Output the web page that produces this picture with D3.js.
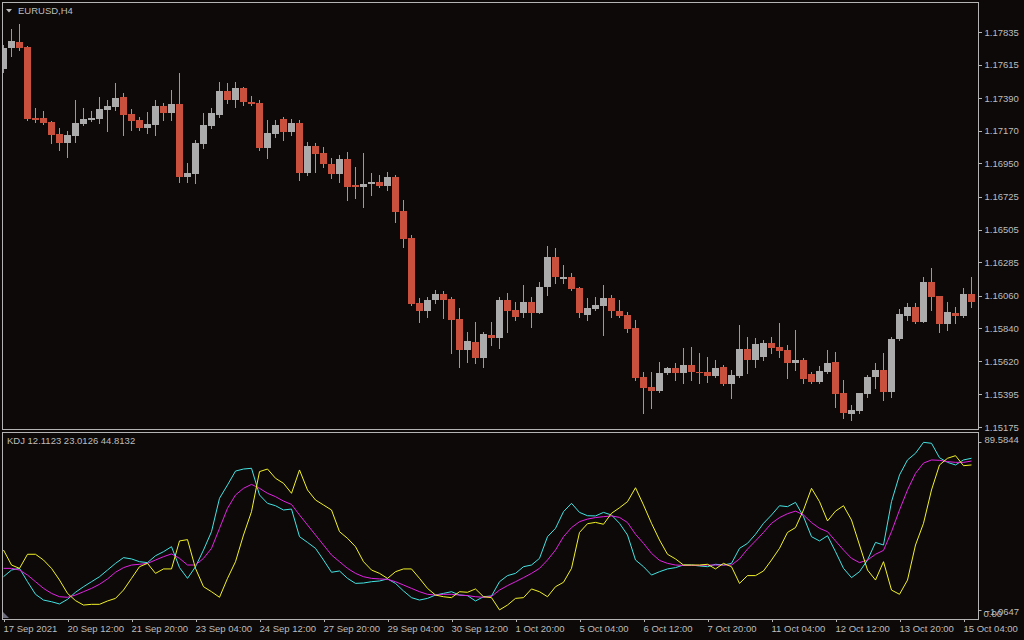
<!DOCTYPE html>
<html><head><meta charset="utf-8">
<script src="https://cdn.jsdelivr.net/npm/d3@7"></script>
<style>
html,body{margin:0;padding:0;background:#0c0908;}
svg{display:block;}
text{font-family:"Liberation Sans",Arial,sans-serif;font-size:9.5px;fill:#bdbdbd;}
</style></head><body>
<svg id="c" width="1024" height="640"></svg>
<script>
const symbolTitle = "EURUSD,H4";
const kdjTitle = "KDJ 12.1123 23.0126 44.8132";

const openP = [1.17586,1.17727,1.17768,1.17734,1.17256,1.17256,1.17229,1.17148,1.17088,1.17135,
1.17216,1.17242,1.17249,1.17310,1.17330,1.17397,1.17283,1.17242,1.17189,1.17209,
1.17337,1.17290,1.17350,1.16859,1.16879,1.17081,1.17202,1.17276,1.17438,1.17377,
1.17458,1.17364,1.17357,1.17054,1.17148,1.17249,1.17162,1.17222,1.16886,1.17067,
1.17020,1.16946,1.16879,1.16980,1.16805,1.16791,1.16811,1.16825,1.16798,1.16859,
1.16630,1.16448,1.16010,1.15956,1.16030,1.16071,1.16037,1.15902,1.15694,1.15748,
1.15640,1.15795,1.15774,1.16030,1.15963,1.15943,1.16017,1.15943,1.16118,1.16320,
1.16172,1.16185,1.16111,1.15929,1.15970,1.15990,1.16044,1.15956,1.15929,1.15842,
1.15512,1.15444,1.15418,1.15539,1.15572,1.15539,1.15593,1.15546,1.15546,1.15519,
1.15579,1.15465,1.15519,1.15700,1.15626,1.15647,1.15741,1.15714,1.15694,1.15606,
1.15626,1.15532,1.15478,1.15546,1.15613,1.15404,1.15263,1.15283,1.15397,1.15512,
1.15559,1.15411,1.15768,1.15923,1.15983,1.15882,1.16152,1.16057,1.15869,1.15943,
1.15923,1.16071];

const highP = [1.17748,1.17855,1.17889,1.17741,1.17323,1.17303,1.17236,1.17189,1.17168,1.17377,
1.17323,1.17303,1.17397,1.17377,1.17492,1.17424,1.17317,1.17263,1.17296,1.17377,
1.17357,1.17444,1.17559,1.16953,1.17108,1.17290,1.17323,1.17498,1.17492,1.17498,
1.17465,1.17404,1.17377,1.17242,1.17242,1.17263,1.17249,1.17242,1.17094,1.17088,
1.17061,1.16987,1.17007,1.17027,1.16926,1.17020,1.16886,1.16872,1.16892,1.16872,
1.16704,1.16468,1.16044,1.16051,1.16098,1.16091,1.16051,1.15976,1.15815,1.15882,
1.15815,1.15882,1.16051,1.16077,1.16017,1.16131,1.16051,1.16152,1.16394,1.16381,
1.16266,1.16212,1.16118,1.16044,1.16051,1.16131,1.16064,1.16030,1.15950,1.15896,
1.15546,1.15546,1.15613,1.15579,1.15606,1.15707,1.15714,1.15673,1.15647,1.15626,
1.15593,1.15559,1.15862,1.15781,1.15774,1.15761,1.15781,1.15875,1.15727,1.15828,
1.15640,1.15546,1.15586,1.15694,1.15680,1.15492,1.15323,1.15404,1.15525,1.15606,
1.15673,1.15781,1.15970,1.16010,1.16010,1.16185,1.16246,1.16057,1.16017,1.15983,
1.16111,1.16185];

const lowP = [1.17566,1.17673,1.17714,1.17242,1.17229,1.17216,1.17088,1.17040,1.16993,1.17094,
1.17209,1.17236,1.17222,1.17168,1.17310,1.17141,1.17175,1.17175,1.17155,1.17141,
1.17242,1.17242,1.16825,1.16825,1.16818,1.17054,1.17189,1.17263,1.17357,1.17330,
1.17343,1.17343,1.17040,1.16987,1.17128,1.17108,1.17141,1.16838,1.16872,1.16892,
1.16926,1.16852,1.16825,1.16704,1.16717,1.16657,1.16737,1.16791,1.16771,1.16556,
1.16387,1.15997,1.15882,1.15916,1.16010,1.15909,1.15673,1.15579,1.15613,1.15606,
1.15579,1.15727,1.15707,1.15815,1.15896,1.15916,1.15849,1.15943,1.16064,1.16145,
1.16145,1.16098,1.15916,1.15896,1.15963,1.15795,1.15916,1.15916,1.15815,1.15492,
1.15269,1.15303,1.15411,1.15532,1.15492,1.15471,1.15492,1.15471,1.15478,1.15512,
1.15458,1.15370,1.15512,1.15539,1.15579,1.15626,1.15673,1.15647,1.15505,1.15559,
1.15471,1.15471,1.15471,1.15539,1.15310,1.15236,1.15222,1.15269,1.15377,1.15438,
1.15357,1.15377,1.15761,1.15896,1.15875,1.15882,1.15963,1.15815,1.15828,1.15875,
1.15916,1.15983];

const closeP = [1.17727,1.17774,1.17727,1.17249,1.17242,1.17222,1.17141,1.17088,1.17141,1.17222,
1.17249,1.17256,1.17317,1.17337,1.17391,1.17276,1.17236,1.17189,1.17216,1.17337,
1.17290,1.17350,1.16859,1.16886,1.17088,1.17209,1.17290,1.17438,1.17377,1.17458,
1.17364,1.17350,1.17054,1.17155,1.17209,1.17162,1.17222,1.16886,1.17067,1.17014,
1.16946,1.16879,1.16980,1.16791,1.16791,1.16811,1.16825,1.16798,1.16859,1.16623,
1.16441,1.16003,1.15956,1.16030,1.16071,1.16030,1.15896,1.15694,1.15754,1.15640,
1.15801,1.15774,1.16030,1.15956,1.15916,1.16017,1.15943,1.16118,1.16320,1.16185,
1.16185,1.16104,1.15943,1.15976,1.15997,1.16044,1.15956,1.15923,1.15835,1.15505,
1.15438,1.15418,1.15539,1.15572,1.15539,1.15593,1.15546,1.15539,1.15519,1.15572,
1.15465,1.15525,1.15700,1.15626,1.15734,1.15741,1.15707,1.15687,1.15606,1.15626,
1.15498,1.15478,1.15552,1.15606,1.15397,1.15269,1.15290,1.15404,1.15512,1.15559,
1.15411,1.15768,1.15936,1.15983,1.15882,1.16152,1.16051,1.15869,1.15950,1.15923,
1.16071,1.16017];

const kLine = [16.9,20.5,21.4,14.2,7.4,4.3,3.4,2.2,4.7,8.5,
11.5,14.2,16.9,20.5,24.1,27.2,26.5,25.0,24.5,28.2,
30.4,33.1,21.8,16.0,22.3,31.3,41.2,59.2,66.4,73.9,
75.0,75.4,61.0,56.5,55.2,52.9,53.4,38.5,35.4,32.2,
25.9,19.3,20.0,16.0,13.3,13.5,14.2,14.6,15.7,13.3,
9.2,5.6,4.3,5.2,7.0,7.9,8.8,7.0,6.7,3.8,
6.1,6.5,14.2,17.5,18.7,22.3,23.2,26.8,38.5,43.0,
52.0,56.5,51.6,49.8,49.7,51.6,50.2,45.7,39.4,25.9,
22.3,17.8,19.6,21.1,21.8,23.2,23.2,22.7,22.3,23.6,
23.2,24.1,32.2,34.9,39.8,45.7,50.2,55.2,54.7,57.0,
49.3,38.5,36.2,39.0,30.4,21.4,16.4,19.6,25.9,35.4,
34.0,57.4,71.8,79.9,83.5,89.4,88.9,81.1,78.6,77.2,
79.9,80.8];

const dLine = [21.4,21.4,20.5,17.8,14.2,10.6,7.9,6.1,5.8,7.0,
8.8,10.6,12.8,15.7,19.3,21.8,23.2,23.6,24.1,25.9,
27.7,29.2,26.8,23.2,23.2,26.8,32.2,43.0,53.8,61.0,
64.6,66.7,64.6,61.9,60.1,57.7,55.9,50.2,44.8,39.4,
34.0,28.6,25.0,21.4,18.7,16.9,16.0,15.7,15.5,14.2,
12.4,10.6,8.8,7.4,7.0,7.4,7.4,7.0,6.7,6.1,
5.8,6.3,9.7,12.1,14.2,16.4,18.7,21.4,25.9,31.3,
38.5,43.4,46.6,48.0,48.8,49.3,49.7,48.9,46.1,39.8,
34.9,29.5,25.7,24.1,23.2,23.0,23.0,23.0,23.2,23.2,
23.2,23.2,26.5,31.8,36.2,40.8,45.7,48.8,50.9,52.3,
50.2,46.1,43.0,41.2,36.2,31.3,26.8,24.5,25.9,29.0,
31.1,41.2,52.9,63.7,72.7,78.2,79.9,79.7,79.0,78.6,
78.6,79.3];

const jLine = [31.3,23.2,21.4,29.0,29.0,25.9,21.4,15.1,7.9,4.0,
1.6,2.0,2.0,3.8,5.2,9.7,16.0,22.3,24.1,18.7,
21.1,21.1,36.2,36.9,21.4,11.5,8.8,5.8,16.0,25.0,
39.4,52.0,73.6,75.0,70.0,67.3,61.9,74.5,63.7,58.3,
55.6,52.9,41.2,37.6,33.1,25.0,20.5,18.7,16.0,19.6,
21.1,21.1,16.0,10.6,7.0,6.1,5.6,8.8,8.5,10.3,
6.1,5.6,-1.0,1.6,5.2,5.6,10.3,8.8,6.1,11.5,
13.9,21.4,40.8,45.5,46.2,45.2,51.1,54.1,57.4,64.9,
55.6,45.7,36.7,29.0,26.5,23.2,23.2,23.2,23.6,21.1,
24.1,22.3,13.3,17.5,17.5,20.0,25.9,32.2,40.8,43.4,
52.9,64.6,57.4,47.0,52.3,55.2,47.5,34.0,20.5,15.1,
25.0,9.7,7.4,15.1,34.0,45.7,63.7,77.2,80.8,82.2,
76.8,77.2];

const timeTickIndex = [0,8,16,24,32,40,48,56,64,72,80,88,96,104,112,120];
const timeTickLabels = ["17 Sep 2021","20 Sep 12:00","21 Sep 20:00","23 Sep 04:00","24 Sep 12:00","27 Sep 20:00","29 Sep 04:00","30 Sep 12:00","1 Oct 20:00","5 Oct 04:00","6 Oct 12:00","7 Oct 20:00","11 Oct 04:00","12 Oct 12:00","13 Oct 20:00","15 Oct 04:00"];
const priceTicks = [1.17835,1.17615,1.17390,1.17170,1.16950,1.16725,1.16505,1.16285,1.16060,1.15840,1.15620,1.15395,1.15175];
const priceDomain = [1.15162, 1.18037];
const kdjMax = 89.5844, kdjMin = -1.0647, kdjLevel = 0;

// ---- layout ----
const W = 1024, H = 640;
const L = 2.5, R = 978.5;
const mainTop = 2.5, mainBot = 429.5;
const subTop = 432.5, subBot = 619;
const bg = "#0c0908", frame = "#b4b4b4";
const upCol = "#ababab", downCol = "#c9503d", wickCol = "#9a9a9a";

const svg = d3.select("#c");
svg.append("rect").attr("width", W).attr("height", H).attr("fill", bg);

const n = openP.length;
const x = d3.scaleLinear().domain([0, n - 1]).range([3.5, 3.5 + 8 * (n - 1)]);
const y = d3.scaleLinear().domain(priceDomain).range([429, 2]);
const ky = d3.scaleLinear().domain([kdjMin, kdjMax]).range([610, 442]);

const defs = svg.append("defs");
defs.append("clipPath").attr("id", "clipMain").append("rect")
  .attr("x", 3).attr("y", 3).attr("width", R - 3).attr("height", mainBot - 3);
defs.append("clipPath").attr("id", "clipSub").append("rect")
  .attr("x", 3).attr("y", subTop + 0.5).attr("width", R - 3).attr("height", subBot - subTop - 1);

// candles
const gC = svg.append("g").attr("clip-path", "url(#clipMain)");
const idx = d3.range(n);
gC.selectAll("line.w").data(idx).join("line")
  .attr("x1", i => x(i)).attr("x2", i => x(i))
  .attr("y1", i => Math.round(y(highP[i]))).attr("y2", i => Math.round(y(lowP[i])) + 1)
  .attr("stroke", wickCol).attr("stroke-width", 1).attr("shape-rendering", "crispEdges");
gC.selectAll("rect.b").data(idx).join("rect")
  .attr("x", i => x(i) - 3.5).attr("width", 7)
  .attr("y", i => Math.round(y(Math.max(openP[i], closeP[i]))))
  .attr("height", i => Math.max(1, Math.round(y(Math.min(openP[i], closeP[i]))) - Math.round(y(Math.max(openP[i], closeP[i])))))
  .attr("fill", i => closeP[i] >= openP[i] ? upCol : downCol)
  .attr("shape-rendering", "crispEdges");

// KDJ lines
const gK = svg.append("g").attr("clip-path", "url(#clipSub)");
const lineGen = d3.line().x((d, i) => x(i)).y(d => ky(d));
[[kLine, "#45e3e3"], [dLine, "#e224e2"], [jLine, "#f2f22a"]].forEach(([arr, col]) => {
  gK.append("path").datum(arr).attr("d", lineGen).attr("fill", "none")
    .attr("stroke", col).attr("stroke-width", 1);
});

// frames
svg.append("rect").attr("x", L).attr("y", mainTop).attr("width", R - L).attr("height", mainBot - mainTop)
  .attr("fill", "none").attr("stroke", frame).attr("shape-rendering", "crispEdges");
svg.append("rect").attr("x", L).attr("y", subTop).attr("width", R - L).attr("height", subBot - subTop)
  .attr("fill", "none").attr("stroke", frame).attr("shape-rendering", "crispEdges");

// price axis
const yAxis = d3.axisRight(y).tickValues(priceTicks).tickSize(3).tickPadding(3).tickFormat(d3.format(".5f"));
const gy = svg.append("g").attr("transform", `translate(${R},0)`).call(yAxis);
gy.select(".domain").remove();
gy.selectAll(".tick line").attr("stroke", frame).attr("shape-rendering", "crispEdges");
gy.selectAll(".tick text").attr("fill", "#bdbdbd").style("font-family", '"Liberation Sans",Arial,sans-serif').style("font-size", "9.5px");

// time axis
const xAxis = d3.axisBottom(x).tickValues(timeTickIndex).tickSize(3).tickPadding(3)
  .tickFormat((d, i) => timeTickLabels[i]);
const gx = svg.append("g").attr("transform", `translate(0,${subBot})`).call(xAxis);
gx.select(".domain").remove();
gx.selectAll(".tick line").attr("stroke", frame).attr("shape-rendering", "crispEdges");
gx.selectAll(".tick text").attr("text-anchor", "start").attr("dx", -0.5).attr("fill", "#bdbdbd")
  .style("font-family", '"Liberation Sans",Arial,sans-serif').style("font-size", "9.5px");

// KDJ scale labels
const kl = svg.append("g");
kl.append("line").attr("x1", R).attr("x2", R + 3).attr("y1", Math.round(ky(kdjMax)) + 0.5).attr("y2", Math.round(ky(kdjMax)) + 0.5).attr("stroke", frame);
kl.append("text").attr("x", R + 6).attr("y", ky(kdjMax) - 2).attr("dy", "0.35em").text(d3.format(".4f")(kdjMax));
kl.append("line").attr("x1", R).attr("x2", R + 3).attr("y1", Math.round(ky(kdjMin)) + 0.5).attr("y2", Math.round(ky(kdjMin)) + 0.5).attr("stroke", frame);
kl.append("text").attr("x", R + 6).attr("y", ky(kdjMin) + 2).attr("dy", "0.35em").text(d3.format(".4f")(kdjMin));
kl.append("text").attr("x", R + 5).attr("y", ky(kdjMin) + 4).attr("dy", "0.35em").text(d3.format(".2f")(kdjLevel));

// titles
svg.append("path").attr("d", "M6,9 L12,9 L9,12.5 Z").attr("fill", "#bdbdbd");
svg.append("text").attr("x", 18).attr("y", 10.5).attr("dy", "0.35em").text(symbolTitle);
svg.append("text").attr("x", 7).attr("y", 441).attr("dy", "0.35em").text(kdjTitle);

// chart-shift marker
svg.append("path").attr("d", "M3,612 L3,618 L9,618 Z").attr("fill", "#6c6c7c");
</script>
</body></html>
